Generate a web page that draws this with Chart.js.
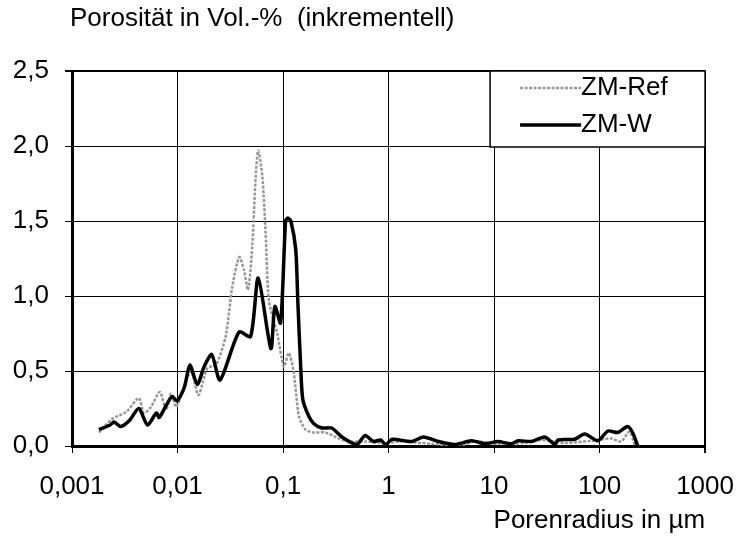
<!DOCTYPE html>
<html>
<head>
<meta charset="utf-8">
<script src="https://cdn.jsdelivr.net/npm/chart.js@4/dist/chart.umd.min.js"></script>
<style>
    body { margin: 0; background: #fff; }
    #wrap { width: 752px; height: 541px; }
</style>
</head>
<body>
<div id="wrap"><canvas id="myChart" width="752" height="541"></canvas></div>
<script>
// pore radius in µm and incremental porosity in Vol.-%
const radiusRef = [0.0018, 0.0024, 0.0033, 0.0043, 0.0048, 0.0056, 0.0068, 0.0078, 0.0087, 0.0097,
    0.0112, 0.0134, 0.0158, 0.0192, 0.0231, 0.0286, 0.0330, 0.0385, 0.0427, 0.0466,
    0.0511, 0.0551, 0.0582, 0.0636, 0.0684, 0.0735, 0.0881, 0.1019, 0.1135, 0.1265,
    0.1413, 0.163, 0.195, 0.252, 0.337, 0.419, 0.603, 0.938, 1.24, 2.55,
    4.59, 6.59, 10.9, 19.6, 28.1, 46.8, 83.4, 129, 160, 192, 217]
const porosityRef = [0.09, 0.18, 0.23, 0.32, 0.22, 0.26, 0.36, 0.24, 0.35, 0.26,
    0.37, 0.50, 0.34, 0.52, 0.54, 0.73, 1.06, 1.26, 1.17, 1.04,
    1.33, 1.80, 1.97, 1.80, 1.42, 0.97, 0.75, 0.53, 0.62, 0.49,
    0.20, 0.11, 0.09, 0.09, 0.05, 0.03, 0.03, 0.02, 0.03, 0.015,
    0.0, 0.03, 0.015, 0.02, 0.04, 0.02, 0.035, 0.05, 0.03, 0.095, 0.0]

const radiusW = [0.0018, 0.0023, 0.0025, 0.0029, 0.0035, 0.0043, 0.0052, 0.0063, 0.0067, 0.0078,
    0.0089, 0.0099, 0.0116, 0.0131, 0.0154, 0.0179, 0.0211, 0.0253, 0.0383, 0.0493,
    0.0582, 0.0767, 0.0837, 0.0948, 0.1057, 0.1112, 0.1186, 0.132, 0.138, 0.147,
    0.154, 0.175, 0.195, 0.233, 0.289, 0.362, 0.50, 0.60, 0.72, 0.84,
    0.94, 1.08, 1.66, 2.14, 2.97, 4.27, 6.12, 8.2, 10.9, 14.6,
    16.9, 22.6, 30.3, 37.6, 40.4, 58.1, 72.3, 96.4, 120, 149, 185, 207, 230]
const porosityW = [0.11, 0.14, 0.16, 0.13, 0.17, 0.25, 0.14, 0.22, 0.19, 0.27,
    0.33, 0.30, 0.39, 0.54, 0.41, 0.53, 0.61, 0.44, 0.76, 0.73,
    1.12, 0.65, 0.93, 0.82, 1.50, 1.52, 1.50, 1.31, 0.97, 0.53,
    0.31, 0.20, 0.15, 0.12, 0.12, 0.06, 0.01, 0.07, 0.03, 0.04,
    0.01, 0.045, 0.03, 0.06, 0.03, 0.01, 0.035, 0.015, 0.03, 0.015,
    0.035, 0.03, 0.06, 0.01, 0.04, 0.045, 0.08, 0.035, 0.10, 0.09, 0.13, 0.085, 0.0]

const xTickValues = [0.001, 0.01, 0.1, 1, 10, 100, 1000]
const xTickLabels = ["0,001", "0,01", "0,1", "1", "10", "100", "1000"]
const yTickLabels = ["0,0", "0,5", "1,0", "1,5", "2,0", "2,5"]

const yTitle = "Porosität in Vol.-%  (inkrementell)"
const xTitle = "Porenradius in µm"

const fontFamily = "'Liberation Sans', Arial, sans-serif"

function toPoints(xs, ys) {
    return xs.map((x, i) => ({ x: x, y: ys[i] }))
}

Chart.defaults.font.family = fontFamily
Chart.defaults.font.size = 26
Chart.defaults.color = "#000"

// y-axis caption above the plot
const topCaption = {
    id: "topCaption",
    afterDraw(chart) {
        let ctx = chart.ctx
        ctx.save()
        ctx.font = "26px " + fontFamily
        ctx.fillStyle = "#000"
        ctx.textAlign = "left"
        ctx.textBaseline = "middle"
        ctx.fillText(yTitle, 70, 19)
        ctx.restore()
    }
}

// boxed legend in the top right corner of the plot
const legendBox = {
    id: "legendBox",
    afterDatasetsDraw(chart) {
        let ctx = chart.ctx
        let area = chart.chartArea
        let w = 215, h = 76
        let x0 = area.right - w, y0 = area.top
        ctx.save()
        ctx.fillStyle = "#fff"
        ctx.fillRect(x0, y0, w, h)
        ctx.strokeStyle = "#000"
        ctx.lineWidth = 1.5
        ctx.strokeRect(x0, y0, w, h)
        ctx.font = "26px " + fontFamily
        ctx.textAlign = "left"
        ctx.textBaseline = "middle"
        chart.data.datasets.forEach((ds, i) => {
            let y = y0 + 17 + i * 37
            ctx.beginPath()
            ctx.strokeStyle = ds.borderColor
            ctx.lineWidth = ds.borderWidth
            ctx.setLineDash(ds.borderDash || [])
            ctx.moveTo(x0 + 30, y)
            ctx.lineTo(x0 + 91, y)
            ctx.stroke()
            ctx.setLineDash([])
            ctx.fillStyle = "#000"
            ctx.fillText(ds.label, x0 + 91, y)
        })
        ctx.restore()
    }
}

const ctx = document.getElementById("myChart")

new Chart(ctx, {
    type: "line",
    data: {
        datasets: [
            {
                label: "ZM-Ref",
                data: toPoints(radiusRef, porosityRef),
                borderColor: "#979797",
                borderWidth: 2.5,
                borderDash: [3, 1.5],
                pointRadius: 0,
                tension: 0.25,
                order: 2
            },
            {
                label: "ZM-W",
                data: toPoints(radiusW, porosityW),
                borderColor: "#000",
                borderWidth: 3.5,
                pointRadius: 0,
                tension: 0.25,
                order: 1
            }
        ]
    },
    options: {
        responsive: false,
        animation: false,
        layout: { padding: { top: 71, right: 44, left: 0, bottom: 0 } },
        plugins: {
            legend: { display: false },
            tooltip: { enabled: false }
        },
        scales: {
            x: {
                type: "logarithmic",
                min: 0.001,
                max: 1000,
                afterBuildTicks: (scale) => {
                    scale.ticks = xTickValues.map(v => ({ value: v }))
                },
                afterFit: (scale) => { scale.height = 95 },
                ticks: {
                    autoSkip: false,
                    maxRotation: 0,
                    padding: 18,
                    callback: (value, index) => xTickLabels[index]
                },
                grid: {
                    color: "#000",
                    lineWidth: (c) => c.tick && c.tick.value === 1000 ? 2 : 1,
                    tickLength: 7
                },
                border: { color: "#000", width: 3 },
                title: {
                    display: true,
                    text: xTitle,
                    align: "end",
                    padding: { top: 0, bottom: 5 }
                }
            },
            y: {
                min: 0,
                max: 2.5,
                afterFit: (scale) => { scale.width = 72 },
                ticks: {
                    stepSize: 0.5,
                    padding: 16,
                    callback: (value, index) => yTickLabels[index]
                },
                grid: {
                    color: "#000",
                    lineWidth: (c) => c.tick && c.tick.value === 2.5 ? 2 : 1,
                    tickLength: 7
                },
                border: { color: "#000", width: 3 }
            }
        }
    },
    plugins: [topCaption, legendBox]
})
</script>
</body>
</html>
